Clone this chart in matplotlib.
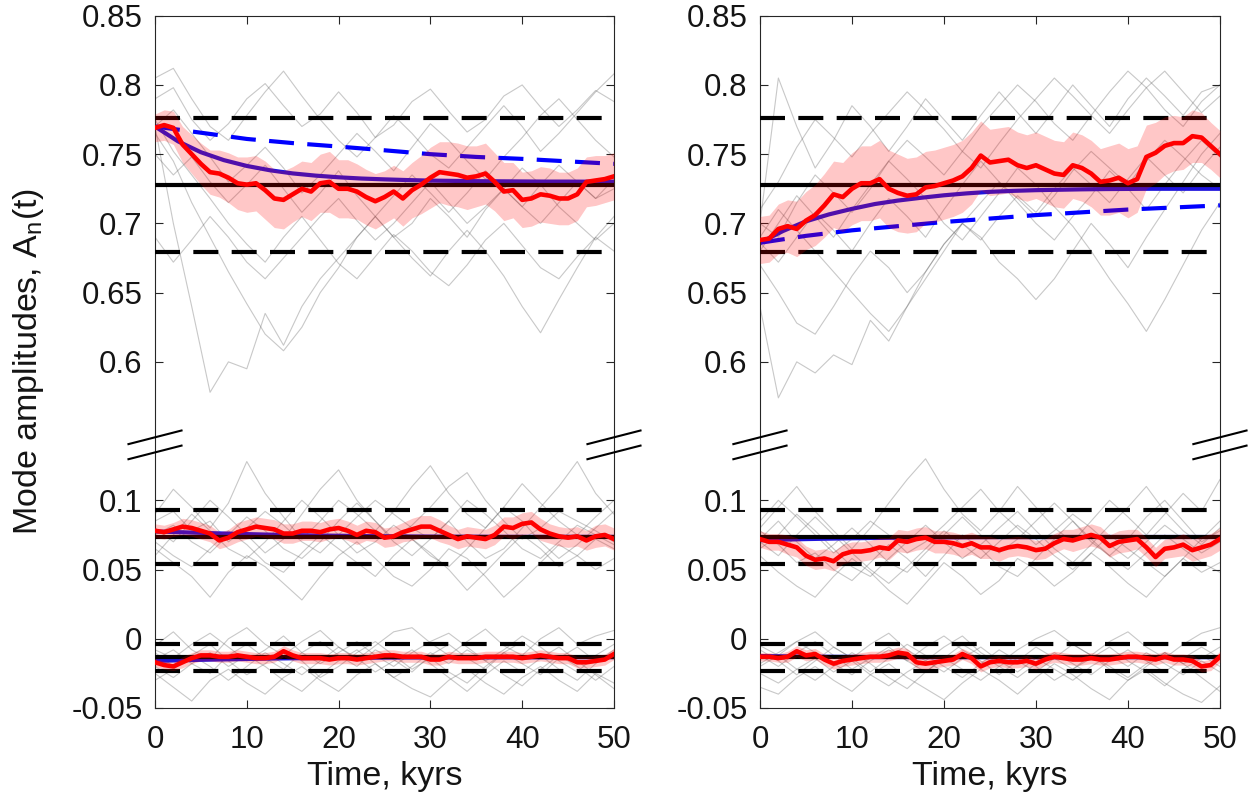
"""
Mode amplitudes A_n(t) for two runs, drawn on a broken y-axis.
The top mode is shifted down by TOP_SHIFT so it fits in the same axes.
"""

import numpy as np
import matplotlib
matplotlib.use("Agg")
import matplotlib.pyplot as plt

plt.rcParams["font.family"] = ["Liberation Sans", "DejaVu Sans"]
plt.rcParams["mathtext.fontset"] = "custom"
plt.rcParams["mathtext.rm"] = "Liberation Sans"

# ---------------------------------------------------------------------------
# DATA
# ---------------------------------------------------------------------------

TOP_SHIFT = 0.4          # top mode is drawn at value - TOP_SHIFT

t_mean = np.arange(0, 51, 1)        # ensemble mean, every 1 kyr
t_ens = np.arange(0, 51, 2)         # single realisations, every 2 kyr
t_fit = np.arange(0, 50.1, 2.5)     # model curve (solid blue)
t_lin = np.arange(0, 51, 5)         # linearised model (dashed blue)

# reference level (solid black) and bounds (dashed black) for each mode
top_level, top_bounds = 0.728, (0.6797, 0.7764)
mid_level, mid_bounds = 0.0735, (0.0538, 0.0933)
bot_level, bot_bounds = -0.0135, (-0.0236, -0.0040)

# ---- left panel, top mode --------------------------------------------------
tl_gray = [
    [0.790, 0.798, 0.775, 0.760, 0.772, 0.790, 0.801, 0.785, 0.770, 0.779, 0.795, 0.780, 0.762, 0.771, 0.788, 0.797, 0.781, 0.766, 0.775, 0.792, 0.800, 0.784, 0.770, 0.782, 0.796, 0.788],
    [0.775, 0.752, 0.735, 0.718, 0.700, 0.685, 0.672, 0.690, 0.705, 0.688, 0.671, 0.660, 0.676, 0.692, 0.680, 0.665, 0.655, 0.670, 0.688, 0.700, 0.684, 0.668, 0.660, 0.676, 0.690, 0.680],
    [0.770, 0.700, 0.640, 0.578, 0.600, 0.595, 0.635, 0.612, 0.640, 0.660, 0.675, 0.690, 0.705, 0.690, 0.700, 0.718, 0.705, 0.690, 0.710, 0.725, 0.712, 0.700, 0.715, 0.730, 0.718, 0.725],
    [0.765, 0.745, 0.715, 0.690, 0.665, 0.642, 0.620, 0.608, 0.625, 0.650, 0.668, 0.690, 0.705, 0.720, 0.735, 0.722, 0.708, 0.722, 0.738, 0.725, 0.712, 0.728, 0.742, 0.730, 0.718, 0.732],
    [0.805, 0.812, 0.790, 0.770, 0.760, 0.778, 0.795, 0.810, 0.792, 0.775, 0.760, 0.748, 0.762, 0.778, 0.765, 0.750, 0.740, 0.755, 0.770, 0.785, 0.770, 0.752, 0.765, 0.780, 0.795, 0.808],
    [0.750, 0.735, 0.748, 0.730, 0.715, 0.728, 0.742, 0.725, 0.708, 0.722, 0.738, 0.720, 0.705, 0.690, 0.675, 0.662, 0.680, 0.695, 0.680, 0.662, 0.640, 0.621, 0.645, 0.668, 0.690, 0.705],
    [0.770, 0.782, 0.765, 0.748, 0.730, 0.742, 0.755, 0.740, 0.722, 0.735, 0.750, 0.765, 0.752, 0.738, 0.755, 0.772, 0.760, 0.745, 0.732, 0.748, 0.762, 0.778, 0.790, 0.775, 0.760, 0.748],
    [0.690, 0.672, 0.688, 0.705, 0.690, 0.672, 0.660, 0.675, 0.690, 0.705, 0.718, 0.702, 0.688, 0.700, 0.715, 0.730, 0.715, 0.700, 0.712, 0.725, 0.740, 0.728, 0.712, 0.700, 0.688, 0.700],
]
tl_red = [0.769, 0.771, 0.769, 0.757, 0.750, 0.743, 0.737, 0.736, 0.733, 0.729, 0.728,
          0.729, 0.724, 0.718, 0.717, 0.721, 0.725, 0.723, 0.729, 0.730, 0.725,
          0.725, 0.723, 0.719, 0.716, 0.719, 0.723, 0.718, 0.724, 0.728, 0.733,
          0.737, 0.736, 0.735, 0.733, 0.734, 0.736, 0.730, 0.723, 0.724, 0.717,
          0.718, 0.721, 0.720, 0.718, 0.718, 0.721, 0.730, 0.731, 0.732, 0.734]
tl_hw = [0.010, 0.011, 0.012, 0.013, 0.014, 0.015, 0.016, 0.017, 0.018, 0.019, 0.020,
         0.020, 0.021, 0.021, 0.021, 0.020, 0.020, 0.021, 0.021, 0.022, 0.021,
         0.021, 0.020, 0.020, 0.020, 0.019, 0.019, 0.020, 0.020, 0.021, 0.022,
         0.022, 0.023, 0.023, 0.023, 0.022, 0.022, 0.021, 0.021, 0.020, 0.020,
         0.020, 0.020, 0.020, 0.019, 0.019, 0.019, 0.018, 0.018, 0.017, 0.017]
tl_fit = [0.7700, 0.7593, 0.7514, 0.7457, 0.7415, 0.7384, 0.7361, 0.7345, 0.7333, 0.7324, 0.7318,
          0.7313, 0.7309, 0.7307, 0.7305, 0.7304, 0.7303, 0.7302, 0.7302, 0.7301, 0.7301]
tl_lin = [0.770, 0.7655, 0.761, 0.758, 0.7555, 0.7528, 0.750, 0.748, 0.7466, 0.7448, 0.743]

# ---- left panel, middle mode -----------------------------------------------
ml_gray = [
    [0.090, 0.108, 0.095, 0.080, 0.098, 0.128, 0.105, 0.088, 0.072, 0.085, 0.100, 0.090, 0.078, 0.092, 0.110, 0.125, 0.105, 0.090, 0.080, 0.095, 0.112, 0.098, 0.085, 0.075, 0.088, 0.100],
    [0.065, 0.055, 0.045, 0.030, 0.048, 0.060, 0.052, 0.040, 0.028, 0.045, 0.060, 0.070, 0.058, 0.045, 0.038, 0.050, 0.065, 0.058, 0.045, 0.030, 0.042, 0.055, 0.068, 0.060, 0.050, 0.058],
    [0.075, 0.082, 0.070, 0.062, 0.075, 0.088, 0.078, 0.065, 0.058, 0.070, 0.085, 0.098, 0.085, 0.072, 0.082, 0.095, 0.110, 0.120, 0.100, 0.085, 0.072, 0.080, 0.092, 0.085, 0.078, 0.070],
    [0.080, 0.070, 0.085, 0.100, 0.088, 0.075, 0.062, 0.072, 0.090, 0.108, 0.122, 0.100, 0.085, 0.070, 0.060, 0.072, 0.085, 0.070, 0.058, 0.065, 0.080, 0.095, 0.110, 0.128, 0.105, 0.090],
    [0.070, 0.060, 0.052, 0.065, 0.078, 0.068, 0.055, 0.048, 0.062, 0.075, 0.065, 0.055, 0.045, 0.060, 0.072, 0.062, 0.050, 0.035, 0.048, 0.062, 0.075, 0.065, 0.052, 0.060, 0.072, 0.065],
    [0.060, 0.075, 0.090, 0.078, 0.065, 0.058, 0.070, 0.085, 0.100, 0.088, 0.075, 0.062, 0.070, 0.082, 0.072, 0.060, 0.052, 0.065, 0.080, 0.095, 0.085, 0.070, 0.058, 0.068, 0.080, 0.092],
    [0.085, 0.092, 0.078, 0.085, 0.070, 0.080, 0.092, 0.082, 0.070, 0.062, 0.075, 0.088, 0.100, 0.090, 0.080, 0.072, 0.085, 0.100, 0.090, 0.078, 0.065, 0.058, 0.070, 0.082, 0.075, 0.068],
]
ml_red = [0.078, 0.077, 0.079, 0.081, 0.080, 0.078, 0.076, 0.071, 0.073, 0.077, 0.079,
          0.081, 0.080, 0.079, 0.076, 0.076, 0.078, 0.078, 0.077, 0.079, 0.080,
          0.078, 0.075, 0.078, 0.077, 0.073, 0.074, 0.077, 0.079, 0.081, 0.081,
          0.078, 0.075, 0.072, 0.074, 0.073, 0.072, 0.075, 0.081, 0.080, 0.083,
          0.084, 0.079, 0.076, 0.074, 0.073, 0.074, 0.071, 0.074, 0.075, 0.072]
ml_hw = [0.005, 0.005, 0.005, 0.006, 0.006, 0.006, 0.006, 0.006, 0.006, 0.007, 0.007,
         0.007, 0.007, 0.007, 0.007, 0.007, 0.007, 0.007, 0.007, 0.007, 0.007,
         0.007, 0.007, 0.007, 0.007, 0.007, 0.007, 0.007, 0.008, 0.008, 0.008,
         0.008, 0.007, 0.007, 0.007, 0.007, 0.007, 0.007, 0.007, 0.008, 0.008,
         0.008, 0.008, 0.007, 0.007, 0.007, 0.007, 0.007, 0.008, 0.008, 0.008]
ml_fit = [0.0775, 0.0770, 0.0765, 0.0760, 0.0756, 0.0752, 0.0749, 0.0746, 0.0744, 0.0742, 0.0740,
          0.0739, 0.0738, 0.0737, 0.0737, 0.0736, 0.0736, 0.0736, 0.0736, 0.0736, 0.0736]

# ---- left panel, bottom mode -----------------------------------------------
bl_gray = [
    [-0.005, 0.005, -0.008, -0.015, 0.000, 0.008, -0.004, -0.012, -0.002, 0.006, -0.006, -0.015, -0.005, 0.005, 0.008, -0.003, -0.012, -0.002, 0.007, -0.005, -0.012, 0.000, 0.008, -0.004, 0.002, 0.006],
    [-0.025, -0.035, -0.045, -0.030, -0.022, -0.032, -0.040, -0.028, -0.020, -0.030, -0.038, -0.026, -0.018, -0.028, -0.036, -0.042, -0.030, -0.022, -0.032, -0.040, -0.028, -0.020, -0.030, -0.038, -0.025, -0.032],
    [-0.015, -0.008, -0.018, -0.025, -0.012, -0.004, -0.014, -0.022, -0.010, -0.002, -0.012, -0.020, -0.008, -0.015, -0.024, -0.012, -0.004, -0.014, -0.022, -0.010, -0.018, -0.026, -0.014, -0.006, -0.016, -0.010],
    [-0.010, -0.020, -0.012, -0.004, -0.016, -0.026, -0.018, -0.008, -0.016, -0.028, -0.020, -0.010, -0.002, -0.012, -0.022, -0.014, -0.024, -0.032, -0.020, -0.010, -0.002, -0.012, -0.022, -0.030, -0.018, -0.008],
    [-0.020, -0.028, -0.018, -0.010, -0.020, -0.012, -0.020, -0.030, -0.038, -0.026, -0.016, -0.008, -0.018, -0.028, -0.020, -0.010, -0.018, -0.008, -0.016, -0.026, -0.034, -0.022, -0.012, -0.020, -0.030, -0.020],
    [-0.008, -0.014, -0.004, 0.004, -0.006, -0.016, -0.008, 0.002, -0.010, -0.018, -0.010, -0.002, -0.012, -0.020, -0.010, -0.002, 0.004, -0.006, -0.016, -0.008, 0.002, -0.006, -0.016, -0.024, -0.012, -0.004],
    [-0.030, -0.022, -0.012, -0.020, -0.030, -0.020, -0.010, -0.018, -0.026, -0.016, -0.006, -0.014, -0.024, -0.016, -0.008, -0.018, -0.028, -0.038, -0.026, -0.016, -0.024, -0.014, -0.006, -0.016, -0.026, -0.036],
]
bl_red = [-0.017, -0.019, -0.020, -0.017, -0.014, -0.012, -0.012, -0.013, -0.013, -0.012, -0.013,
          -0.014, -0.014, -0.013, -0.009, -0.012, -0.014, -0.014, -0.014, -0.015, -0.014,
          -0.014, -0.015, -0.014, -0.013, -0.012, -0.012, -0.013, -0.013, -0.013, -0.015,
          -0.015, -0.013, -0.014, -0.014, -0.014, -0.013, -0.013, -0.013, -0.013, -0.014,
          -0.013, -0.012, -0.013, -0.014, -0.014, -0.017, -0.017, -0.016, -0.015, -0.011]
bl_hw = [0.003, 0.003, 0.003, 0.004, 0.004, 0.004, 0.004, 0.004, 0.004, 0.004, 0.004,
         0.004, 0.004, 0.004, 0.004, 0.004, 0.004, 0.004, 0.004, 0.004, 0.004,
         0.004, 0.004, 0.004, 0.004, 0.004, 0.004, 0.004, 0.004, 0.004, 0.004,
         0.004, 0.004, 0.004, 0.004, 0.004, 0.004, 0.004, 0.004, 0.004, 0.004,
         0.004, 0.004, 0.004, 0.004, 0.004, 0.004, 0.004, 0.004, 0.004, 0.004]
bl_fit = [-0.0160, -0.0156, -0.0152, -0.0149, -0.0146, -0.0143, -0.0141, -0.0139, -0.0138, -0.0137, -0.0136,
          -0.0135, -0.0135, -0.0134, -0.0134, -0.0134, -0.0134, -0.0134, -0.0133, -0.0133, -0.0133]

# ---- right panel, top mode -------------------------------------------------
tr_gray = [
    [0.700, 0.805, 0.770, 0.740, 0.760, 0.785, 0.770, 0.752, 0.770, 0.790, 0.775, 0.760, 0.778, 0.795, 0.780, 0.765, 0.782, 0.800, 0.785, 0.770, 0.790, 0.805, 0.792, 0.778, 0.795, 0.800],
    [0.640, 0.574, 0.600, 0.592, 0.605, 0.598, 0.630, 0.615, 0.640, 0.665, 0.685, 0.700, 0.688, 0.705, 0.720, 0.708, 0.725, 0.740, 0.728, 0.715, 0.732, 0.748, 0.735, 0.722, 0.740, 0.755],
    [0.670, 0.650, 0.628, 0.620, 0.640, 0.662, 0.680, 0.668, 0.650, 0.665, 0.685, 0.700, 0.715, 0.730, 0.718, 0.705, 0.720, 0.738, 0.752, 0.740, 0.728, 0.745, 0.760, 0.748, 0.735, 0.725],
    [0.690, 0.710, 0.695, 0.680, 0.665, 0.650, 0.635, 0.622, 0.640, 0.660, 0.680, 0.700, 0.690, 0.672, 0.660, 0.645, 0.660, 0.680, 0.700, 0.685, 0.668, 0.690, 0.710, 0.730, 0.750, 0.765],
    [0.700, 0.690, 0.715, 0.735, 0.722, 0.708, 0.725, 0.745, 0.760, 0.748, 0.735, 0.752, 0.770, 0.785, 0.800, 0.788, 0.772, 0.760, 0.778, 0.795, 0.810, 0.798, 0.782, 0.770, 0.788, 0.800],
    [0.680, 0.700, 0.720, 0.705, 0.690, 0.710, 0.728, 0.745, 0.732, 0.718, 0.700, 0.688, 0.705, 0.722, 0.740, 0.728, 0.712, 0.698, 0.680, 0.660, 0.642, 0.622, 0.645, 0.670, 0.695, 0.715],
    [0.710, 0.730, 0.755, 0.775, 0.762, 0.748, 0.765, 0.780, 0.795, 0.782, 0.768, 0.752, 0.740, 0.758, 0.775, 0.790, 0.805, 0.792, 0.778, 0.765, 0.782, 0.798, 0.810, 0.795, 0.780, 0.792],
    [0.686, 0.672, 0.690, 0.708, 0.695, 0.680, 0.700, 0.718, 0.705, 0.690, 0.710, 0.728, 0.745, 0.730, 0.715, 0.700, 0.688, 0.705, 0.720, 0.738, 0.725, 0.710, 0.728, 0.745, 0.760, 0.748],
]
tr_red = [0.688, 0.689, 0.696, 0.698, 0.696, 0.702, 0.706, 0.713, 0.721, 0.719, 0.725,
          0.729, 0.729, 0.732, 0.725, 0.722, 0.720, 0.721, 0.726, 0.727, 0.729,
          0.731, 0.734, 0.740, 0.749, 0.744, 0.745, 0.746, 0.742, 0.740, 0.742,
          0.739, 0.736, 0.735, 0.742, 0.740, 0.736, 0.730, 0.731, 0.733, 0.729,
          0.732, 0.748, 0.751, 0.756, 0.758, 0.758, 0.763, 0.762, 0.756, 0.750]
tr_hw = [0.017, 0.017, 0.018, 0.019, 0.020, 0.021, 0.022, 0.023, 0.024, 0.025, 0.026,
         0.027, 0.027, 0.028, 0.028, 0.028, 0.027, 0.027, 0.026, 0.026, 0.026,
         0.026, 0.026, 0.026, 0.025, 0.024, 0.024, 0.024, 0.024, 0.024, 0.024,
         0.024, 0.024, 0.024, 0.024, 0.024, 0.024, 0.024, 0.025, 0.025, 0.025,
         0.024, 0.023, 0.022, 0.021, 0.020, 0.019, 0.019, 0.018, 0.017, 0.017]
tr_fit = [0.6860, 0.6945, 0.7015, 0.7065, 0.7105, 0.7140, 0.7165, 0.7185, 0.7203, 0.7217, 0.7228,
          0.7235, 0.7240, 0.7243, 0.7246, 0.7248, 0.7249, 0.7250, 0.7250, 0.7250, 0.7250]
tr_lin = [0.686, 0.691, 0.695, 0.698, 0.701, 0.7035, 0.706, 0.708, 0.710, 0.7115, 0.713]

# ---- right panel, middle mode ----------------------------------------------
mr_gray = [
    [0.080, 0.095, 0.110, 0.092, 0.078, 0.065, 0.080, 0.098, 0.115, 0.130, 0.108, 0.090, 0.078, 0.092, 0.110, 0.095, 0.080, 0.070, 0.085, 0.100, 0.088, 0.075, 0.090, 0.105, 0.092, 0.115],
    [0.060, 0.048, 0.038, 0.030, 0.045, 0.058, 0.048, 0.035, 0.025, 0.040, 0.055, 0.045, 0.032, 0.042, 0.058, 0.050, 0.038, 0.048, 0.062, 0.052, 0.040, 0.030, 0.045, 0.058, 0.048, 0.055],
    [0.072, 0.085, 0.070, 0.058, 0.068, 0.080, 0.068, 0.055, 0.048, 0.062, 0.075, 0.088, 0.075, 0.062, 0.072, 0.085, 0.098, 0.085, 0.070, 0.060, 0.072, 0.088, 0.100, 0.085, 0.070, 0.078],
    [0.078, 0.068, 0.055, 0.062, 0.050, 0.042, 0.055, 0.068, 0.058, 0.045, 0.060, 0.075, 0.065, 0.052, 0.045, 0.058, 0.072, 0.085, 0.072, 0.060, 0.050, 0.062, 0.075, 0.065, 0.055, 0.048],
    [0.065, 0.075, 0.090, 0.078, 0.065, 0.052, 0.045, 0.058, 0.070, 0.082, 0.070, 0.058, 0.068, 0.080, 0.092, 0.078, 0.065, 0.055, 0.068, 0.082, 0.095, 0.110, 0.092, 0.078, 0.068, 0.080],
    [0.070, 0.060, 0.075, 0.088, 0.075, 0.062, 0.050, 0.040, 0.052, 0.065, 0.078, 0.068, 0.058, 0.070, 0.082, 0.072, 0.060, 0.050, 0.062, 0.075, 0.065, 0.055, 0.045, 0.058, 0.072, 0.085],
    [0.085, 0.100, 0.088, 0.075, 0.062, 0.072, 0.085, 0.075, 0.062, 0.070, 0.082, 0.095, 0.108, 0.092, 0.080, 0.068, 0.078, 0.090, 0.080, 0.068, 0.058, 0.070, 0.082, 0.072, 0.062, 0.070],
]
mr_red = [0.072, 0.070, 0.070, 0.068, 0.066, 0.060, 0.057, 0.058, 0.056, 0.061, 0.063,
          0.063, 0.064, 0.066, 0.065, 0.071, 0.070, 0.072, 0.073, 0.070, 0.070,
          0.069, 0.067, 0.069, 0.066, 0.066, 0.064, 0.066, 0.067, 0.066, 0.064,
          0.065, 0.069, 0.072, 0.071, 0.073, 0.075, 0.073, 0.067, 0.070, 0.071,
          0.072, 0.066, 0.059, 0.065, 0.066, 0.068, 0.064, 0.066, 0.068, 0.072]
mr_hw = [0.006, 0.006, 0.006, 0.007, 0.007, 0.007, 0.007, 0.007, 0.007, 0.007, 0.007,
         0.007, 0.007, 0.007, 0.008, 0.008, 0.008, 0.008, 0.008, 0.008, 0.008,
         0.008, 0.008, 0.008, 0.008, 0.008, 0.008, 0.007, 0.007, 0.007, 0.007,
         0.007, 0.007, 0.007, 0.008, 0.008, 0.008, 0.008, 0.008, 0.008, 0.008,
         0.007, 0.007, 0.007, 0.007, 0.007, 0.008, 0.008, 0.008, 0.008, 0.008]
mr_fit = [0.0712, 0.0716, 0.0720, 0.0723, 0.0726, 0.0728, 0.0730, 0.0731, 0.0732, 0.0733, 0.0734,
          0.0734, 0.0734, 0.0735, 0.0735, 0.0735, 0.0735, 0.0735, 0.0735, 0.0735, 0.0735]

# ---- right panel, bottom mode ----------------------------------------------
br_gray = [
    [-0.005, -0.012, -0.002, 0.005, -0.006, -0.014, -0.004, 0.004, -0.008, -0.016, -0.006, 0.002, -0.010, -0.018, -0.008, 0.000, 0.006, -0.004, -0.012, -0.002, 0.005, -0.006, -0.014, -0.004, 0.004, 0.008],
    [-0.035, -0.040, -0.028, -0.020, -0.030, -0.038, -0.026, -0.018, -0.028, -0.036, -0.044, -0.032, -0.022, -0.030, -0.040, -0.028, -0.018, -0.026, -0.036, -0.044, -0.030, -0.022, -0.032, -0.040, -0.046, -0.034],
    [-0.012, -0.020, -0.010, -0.002, -0.012, -0.022, -0.014, -0.006, -0.016, -0.024, -0.014, -0.004, -0.012, -0.020, -0.028, -0.018, -0.010, -0.018, -0.026, -0.016, -0.008, -0.016, -0.024, -0.014, -0.006, -0.014],
    [-0.020, -0.012, -0.022, -0.030, -0.020, -0.010, -0.018, -0.028, -0.036, -0.024, -0.014, -0.022, -0.030, -0.020, -0.012, -0.020, -0.030, -0.022, -0.012, -0.020, -0.028, -0.018, -0.010, -0.018, -0.028, -0.038],
    [-0.008, -0.016, -0.026, -0.016, -0.006, -0.014, -0.024, -0.014, -0.004, -0.012, -0.020, -0.028, -0.018, -0.008, -0.016, -0.024, -0.014, -0.004, -0.012, -0.022, -0.030, -0.020, -0.010, -0.018, -0.012, -0.020],
    [-0.018, -0.010, -0.002, -0.010, -0.018, -0.026, -0.016, -0.008, -0.016, -0.006, 0.002, -0.008, -0.016, -0.026, -0.016, -0.006, -0.014, -0.022, -0.014, -0.006, -0.016, -0.024, -0.034, -0.022, -0.014, -0.006],
    [-0.025, -0.032, -0.022, -0.014, -0.024, -0.016, -0.026, -0.034, -0.024, -0.016, -0.024, -0.014, -0.006, -0.016, -0.024, -0.014, -0.022, -0.030, -0.020, -0.012, -0.020, -0.010, -0.018, -0.026, -0.016, -0.024],
]
br_red = [-0.013, -0.013, -0.014, -0.013, -0.009, -0.012, -0.011, -0.015, -0.018, -0.016, -0.015,
          -0.014, -0.013, -0.013, -0.012, -0.010, -0.011, -0.017, -0.018, -0.017, -0.016,
          -0.015, -0.011, -0.014, -0.020, -0.017, -0.016, -0.017, -0.017, -0.016, -0.018,
          -0.015, -0.013, -0.014, -0.015, -0.015, -0.014, -0.015, -0.015, -0.014, -0.013,
          -0.013, -0.014, -0.015, -0.013, -0.015, -0.015, -0.016, -0.020, -0.019, -0.013]
br_hw = [0.003, 0.003, 0.003, 0.004, 0.004, 0.004, 0.004, 0.004, 0.004, 0.004, 0.004,
         0.004, 0.004, 0.004, 0.004, 0.004, 0.004, 0.004, 0.004, 0.004, 0.004,
         0.004, 0.004, 0.004, 0.004, 0.004, 0.004, 0.004, 0.004, 0.004, 0.004,
         0.004, 0.004, 0.004, 0.004, 0.004, 0.004, 0.004, 0.004, 0.004, 0.004,
         0.004, 0.004, 0.004, 0.004, 0.004, 0.004, 0.004, 0.004, 0.004, 0.004]
br_fit = [-0.0125, -0.0127, -0.0129, -0.0130, -0.0131, -0.0132, -0.0132, -0.0133, -0.0133, -0.0133, -0.0133,
          -0.0133, -0.0133, -0.0133, -0.0133, -0.0133, -0.0133, -0.0133, -0.0133, -0.0133, -0.0133]

# axis ticks: lower part is drawn as is, upper part is shifted by TOP_SHIFT
low_ticks = [-0.05, 0, 0.05, 0.1]
high_ticks = [0.6, 0.65, 0.7, 0.75, 0.8, 0.85]
tick_labels = ["-0.05", "0", "0.05", "0.1", "0.6", "0.65", "0.7", "0.75", "0.8", "0.85"]
x_ticks = [0, 10, 20, 30, 40, 50]

# ---------------------------------------------------------------------------
# STYLE
# ---------------------------------------------------------------------------

FS_TICK = 22.5
FS_LABEL = 24.5
TEXT = "#141414"
LW = 3.0
DASH = (6.0, 3.2)
SPINE = "#262626"
BLUE_FIT = "#1f14dc"
BLUE_LIN = "#0000ff"
BREAK_Y = (0.1455, 0.1346)   # centres of the two break strokes, shifted coords


def draw_mode(ax, gray, red, hw, fit, lin, level, bounds, shift=0.0):
    for trace in gray:
        ax.plot(t_ens, np.array(trace) - shift, color="0.35", lw=0.8, alpha=0.33, zorder=1)

    # model curves sit under the black reference lines
    ax.plot(t_fit, np.array(fit) - shift, color=BLUE_FIT, lw=LW, zorder=2)
    if lin is not None:
        ax.plot(t_lin, np.array(lin) - shift, color=BLUE_LIN, lw=LW, dashes=DASH, zorder=2)

    ax.axhline(level - shift, color="k", lw=LW, zorder=3)
    for b in bounds:
        ax.axhline(b - shift, color="k", lw=LW, dashes=DASH, zorder=3)

    red = np.array(red) - shift
    hw = np.array(hw)
    ax.fill_between(t_mean, red - hw, red + hw, color="red", alpha=0.22, lw=0, zorder=4)

    ax.plot(t_mean, red, color="red", lw=3.3, zorder=5)


def add_break(ax, x):
    tr = ax.get_yaxis_transform()
    for yc in BREAK_Y:
        ax.plot([x - 0.06, x + 0.06], [yc - 0.0051, yc + 0.0051], transform=tr,
                color="k", lw=1.5, clip_on=False, zorder=10, solid_capstyle="butt")


def style_axes(ax):
    ax.set_xlim(0, 50)
    ax.set_ylim(-0.05, 0.45)
    ax.set_xticks(x_ticks)
    ax.set_xticklabels([str(v) for v in x_ticks])
    ax.set_yticks(low_ticks + [v - TOP_SHIFT for v in high_ticks])
    ax.set_yticklabels(tick_labels)
    ax.tick_params(direction="in", top=True, right=True, length=5.5, width=0.8,
                   color=SPINE, labelsize=FS_TICK, labelcolor=TEXT)
    ax.tick_params(axis="x", pad=12)
    ax.tick_params(axis="y", pad=9)
    for sp in ax.spines.values():
        sp.set_color(SPINE)
        sp.set_linewidth(0.8)
    ax.set_xlabel("Time, kyrs", fontsize=FS_LABEL, color=TEXT, va="top")
    ax.xaxis.set_label_coords(0.5, -0.076)
    add_break(ax, 0.0)
    add_break(ax, 1.0)


# ---------------------------------------------------------------------------
# FIGURE
# ---------------------------------------------------------------------------

fig = plt.figure(figsize=(12.52, 8.06), dpi=100)
ax_l = fig.add_axes([0.1238, 0.1216, 0.3666, 0.8589])
ax_r = fig.add_axes([0.6070, 0.1216, 0.3674, 0.8589])

draw_mode(ax_l, tl_gray, tl_red, tl_hw, tl_fit, tl_lin, top_level, top_bounds, TOP_SHIFT)
draw_mode(ax_l, ml_gray, ml_red, ml_hw, ml_fit, None, mid_level, mid_bounds)
draw_mode(ax_l, bl_gray, bl_red, bl_hw, bl_fit, None, bot_level, bot_bounds)

draw_mode(ax_r, tr_gray, tr_red, tr_hw, tr_fit, tr_lin, top_level, top_bounds, TOP_SHIFT)
draw_mode(ax_r, mr_gray, mr_red, mr_hw, mr_fit, None, mid_level, mid_bounds)
draw_mode(ax_r, br_gray, br_red, br_hw, br_fit, None, bot_level, bot_bounds)

for ax in (ax_l, ax_r):
    style_axes(ax)

ax_l.set_ylabel(r"Mode amplitudes, A$_\mathregular{n}$(t)", fontsize=FS_LABEL, color=TEXT)
ax_l.yaxis.set_label_coords(-0.238, 0.5)

fig.savefig("out.png", dpi=100)
